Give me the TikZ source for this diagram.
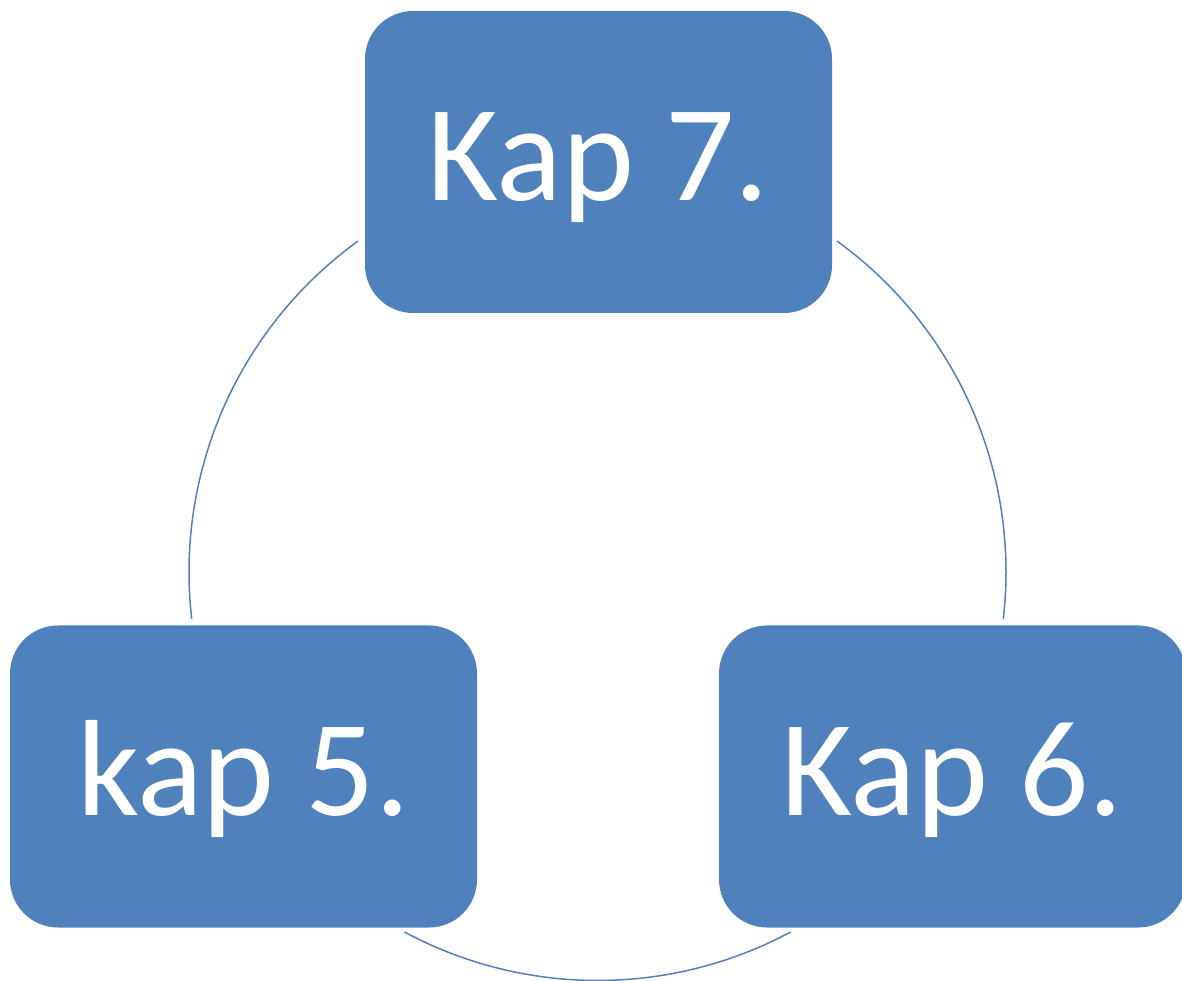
\documentclass[tikz,border=0pt]{standalone}
\usepackage{fontspec}
\setmainfont{Carlito}
\definecolor{boxblue}{HTML}{4F81BD}
\begin{document}
\begin{tikzpicture}[x=1pt,y=1pt,
  box/.style={fill=boxblue,draw=none,rounded corners=48pt,minimum width=467pt,minimum height=302pt,inner sep=0pt},
  lbl/.style={text=white,font=\fontsize{137}{160}\selectfont,anchor=base,inner sep=0pt},
  conn/.style={draw=boxblue,line width=1.5pt}]
\useasboundingbox (0,0) rectangle (1182,980);
\clip (0,0) rectangle (1182,980);
\coordinate (c) at (597.5,408);
\draw[conn] (c) ++(125.9:408.5) arc[start angle=125.9,end angle=186.6,radius=408.5];
\draw[conn] (c) ++(54.1:408.5) arc[start angle=54.1,end angle=-6.6,radius=408.5];
\draw[conn] (c) ++(241.8:408.5) arc[start angle=241.8,end angle=298.2,radius=408.5];
\node[box] (top) at (598.5,818) {};
\node[box] (left) at (243.5,203.5) {};
\node[box] (right) at (952.5,203.5) {};
\node[lbl] (t7) at (598.5,779) {Kap 7.};
\node[lbl] (t5) at (243.5,165) {kap 5.};
\node[lbl] (t6) at (952.5,165) {Kap 6.};
\end{tikzpicture}
\end{document}
